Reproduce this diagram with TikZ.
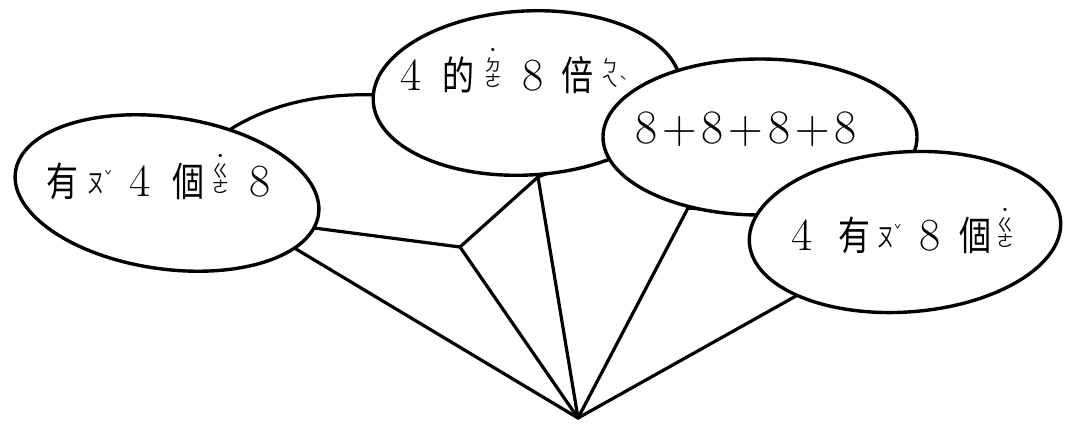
\documentclass[tikz,border=0pt]{standalone}
\usepackage{fontspec}
\usepackage{graphicx}
\newfontfamily\cjk{Noto Sans CJK TC}
\usetikzlibrary{shapes.geometric}
\newcommand\zh[1]{\scalebox{0.8}[1]{\fontsize{40}{40}\selectfont\cjk #1}}
\newcommand\zyv[1]{\raisebox{3pt}{\fontsize{17}{17}\selectfont\cjk\vbox{\offinterlineskip\lineskip=1pt\halign{\hfil##\hfil\cr#1\crcr}}}}
\newcommand\zys[2]{\raisebox{4pt}{\scalebox{0.65}[1]{\fontsize{26}{26}\selectfont\cjk #1}}\raisebox{16pt}{\fontsize{12}{12}\selectfont\cjk #2}}
\newcommand\tonR[1]{\raisebox{4pt}{\fontsize{13}{13}\selectfont\cjk #1}}
\begin{document}
\begin{tikzpicture}[x=1pt,y=-1pt,
  bub/.style={draw, fill=white, ellipse, inner sep=0pt, line width=3.4pt},
  conn/.style={draw, line width=3.2pt, line cap=round},
  lbl/.style={anchor=base west, inner sep=0pt, font=\fontsize{46}{46}\selectfont}]
\useasboundingbox (0,0) rectangle (1065,424);
\coordinate (A) at (578,418);
\coordinate (h1) at (291,246);
\coordinate (h2) at (460,247);
\coordinate (h3) at (538,177);
\coordinate (h4) at (688,208);
\coordinate (h5) at (796,296);
\coordinate (c1) at (314,228);
\coordinate (c3) at (606,150);
\coordinate (c4) at (758,213);
\coordinate (a1) at (226,132);
\coordinate (a2) at (382,95);
\draw[conn] (a1) .. controls (275,100) and (330,93) .. (a2);
\draw[conn] (A) -- (h1);
\draw[conn] (A) -- (h2);
\draw[conn] (A) -- (h3);
\draw[conn] (A) -- (h4);
\draw[conn] (A) -- (h5);
\draw[conn] (h2) -- (c1);
\draw[conn] (h2) -- (h3);
\draw[conn] (h3) -- (c3);
\draw[conn] (h4) -- (c4);
\node[bub, minimum width=306pt, minimum height=152pt, rotate=-8] (e1) at (167,193) {};
\node[bub, minimum width=308pt, minimum height=164pt, rotate=3] (e2) at (527,93) {};
\node[bub, minimum width=314pt, minimum height=156pt] (e3) at (760,137) {};
\node[bub, minimum width=312pt, minimum height=160pt, rotate=4] (e4) at (905,232) {};
\node[lbl] (t1) at (46.5,196) {\zh{有}\hspace{9pt}\zys{ㄡ}{ˇ}\hspace{18pt}4\hspace{22pt}\zh{個}\hspace{7pt}\zyv{˙\cr ㄍ\cr ㄜ}\hspace{21pt}8};
\node[lbl] (t2) at (400,90) {4\hspace{21pt}\zh{的}\hspace{10pt}\zyv{˙\cr ㄉ\cr ㄜ}\hspace{21pt}8\hspace{18pt}\zh{倍}\hspace{8pt}\zyv{ㄅ\cr ㄟ}\hspace{1pt}\tonR{ˋ}};
\node[lbl, font=\fontsize{48}{48}\selectfont] (t3) at (635,143) {8\kern5pt+\kern5pt8\kern5pt+\kern5pt8\kern5pt+\kern5pt8};
\node[lbl] (t4) at (791,250) {4\hspace{26pt}\zh{有}\hspace{7pt}\zys{ㄡ}{ˇ}\hspace{18pt}8\hspace{19pt}\zh{個}\hspace{5pt}\zyv{˙\cr ㄍ\cr ㄜ}};
\end{tikzpicture}
\end{document}
